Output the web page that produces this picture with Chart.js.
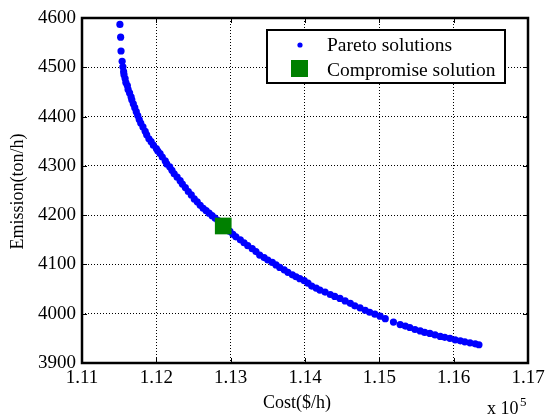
<!DOCTYPE html>
<html>
<head>
<meta charset="utf-8">
<script src="https://cdn.jsdelivr.net/npm/chart.js@4.4.0/dist/chart.umd.min.js"></script>
<style>
  html, body { margin: 0; padding: 0; background: #fff; }
  #wrap { width: 545px; height: 419px; }
</style>
</head>
<body>
<div id="wrap"><canvas id="paretoChart" width="545" height="419"></canvas></div>
<script>
// Pareto front (cost in units of 1e5 $/h, emission in ton/h)
const costs = [
  1.1151, 1.1152, 1.11525, 1.1154, 1.1155, 1.1156, 1.11565, 1.1158, 1.1159, 1.1161,
  1.1162, 1.1164, 1.1166, 1.1167, 1.1169, 1.1171, 1.1173, 1.1175, 1.1177, 1.1179,
  1.1182, 1.1185, 1.1187, 1.1190, 1.1193, 1.1196, 1.1200, 1.1202, 1.1205, 1.1208,
  1.1212, 1.1214, 1.1218, 1.1221, 1.1224, 1.1228, 1.1232, 1.1235, 1.1239, 1.1243,
  1.1247, 1.1251, 1.1255, 1.1259, 1.1263, 1.1267, 1.1271, 1.1275, 1.1279, 1.1283,
  1.1287, 1.1291, 1.1295, 1.1299, 1.1303, 1.1307, 1.1313, 1.1318, 1.1323, 1.1329,
  1.1334, 1.1339, 1.1345, 1.1350, 1.1356, 1.1361, 1.1366, 1.1372, 1.1377, 1.1383,
  1.1388, 1.1393, 1.1399, 1.1404, 1.1409, 1.1415, 1.1420, 1.1427, 1.1434, 1.1440,
  1.1447, 1.1454, 1.1461, 1.1467, 1.1474, 1.1481, 1.1487, 1.1494, 1.1501, 1.1508,
  1.1519, 1.1528, 1.1535, 1.1541, 1.1548, 1.1555, 1.1561, 1.1568, 1.1575, 1.1582,
  1.1588, 1.1595, 1.1602, 1.1609, 1.1615, 1.1622, 1.1629, 1.1634
];
const emissions = [
  4587, 4561, 4533, 4512, 4501, 4491, 4485, 4477, 4469, 4463,
  4455, 4448, 4440, 4434, 4426, 4418, 4410, 4402, 4394, 4387,
  4379, 4370, 4363, 4355, 4349, 4342, 4335, 4330, 4325, 4318,
  4310, 4304, 4298, 4291, 4284, 4277, 4270, 4263, 4256, 4248,
  4241, 4233, 4227, 4220, 4214, 4209, 4204, 4199, 4194, 4189,
  4182, 4178, 4173, 4167, 4161, 4156, 4150, 4144, 4138, 4132,
  4126, 4119, 4114, 4109, 4104, 4099, 4094, 4089, 4084, 4079,
  4075, 4071, 4067, 4062, 4056, 4052, 4048, 4044, 4039, 4035,
  4031, 4026, 4021, 4016, 4012, 4007, 4003, 3999, 3995, 3990,
  3983, 3978, 3975, 3972, 3968, 3965, 3962, 3960, 3957, 3954,
  3952, 3950, 3947, 3945, 3943, 3941, 3939, 3937
];
const compromiseCost = [1.1290];
const compromiseEmission = [4178];

const xTicks = [1.11, 1.12, 1.13, 1.14, 1.15, 1.16, 1.17];
const yTicks = [3900, 4000, 4100, 4200, 4300, 4400, 4500, 4600];

const seriesNames = ['Pareto solutions', 'Compromise solution'];
const xTitle = 'Cost($/h)';
const yTitle = 'Emission(ton/h)';

const FONT = '"Liberation Serif", "Times New Roman", serif';
const BLUE = '#0000ff';
const GREEN = '#008000';

const pareto = costs.map((c, i) => ({ x: c, y: emissions[i] }));
const compromise = compromiseCost.map((c, i) => ({ x: c, y: compromiseEmission[i] }));

// frame, inward ticks, titles, exponent and legend (MATLAB look)
const matlabDecor = {
  id: 'matlabDecor',
  afterDraw(chart) {
    const { ctx, chartArea: ca, scales } = chart;
    ctx.save();

    // inward tick marks on all four sides
    ctx.strokeStyle = '#000';
    ctx.lineWidth = 1;
    const tl = 5;
    ctx.beginPath();
    xTicks.forEach(v => {
      const px = Math.round(scales.x.getPixelForValue(v)) + 0.5;
      ctx.moveTo(px, ca.bottom); ctx.lineTo(px, ca.bottom - tl);
      ctx.moveTo(px, ca.top); ctx.lineTo(px, ca.top + tl);
    });
    yTicks.forEach(v => {
      const py = Math.round(scales.y.getPixelForValue(v)) + 0.5;
      ctx.moveTo(ca.left, py); ctx.lineTo(ca.left + tl, py);
      ctx.moveTo(ca.right, py); ctx.lineTo(ca.right - tl, py);
    });
    ctx.stroke();

    // box
    ctx.lineWidth = 2.5;
    ctx.strokeRect(ca.left, ca.top, ca.right - ca.left, ca.bottom - ca.top);

    // axis titles
    ctx.fillStyle = '#000';
    ctx.font = '18px ' + FONT;
    ctx.textAlign = 'center';
    ctx.textBaseline = 'middle';
    ctx.fillText(xTitle, (ca.left + ca.right) / 2 - 8, ca.bottom + 40);
    ctx.save();
    ctx.translate(18, (ca.top + ca.bottom) / 2 + 1);
    ctx.rotate(-Math.PI / 2);
    ctx.fillText(yTitle, 0, 0);
    ctx.restore();

    // x 10^5 exponent
    ctx.textAlign = 'left';
    ctx.textBaseline = 'alphabetic';
    ctx.font = '18px ' + FONT;
    ctx.fillText('x 10', ca.right - 41, ca.bottom + 51);
    ctx.font = '13px ' + FONT;
    ctx.fillText('5', ca.right - 8, ca.bottom + 43);

    // legend
    const lx = ca.right - 261, ly = ca.top + 12, lw = 238, lh = 53;
    ctx.fillStyle = '#fff';
    ctx.fillRect(lx, ly, lw, lh);
    ctx.strokeStyle = '#000';
    ctx.lineWidth = 2;
    ctx.strokeRect(lx, ly, lw, lh);

    ctx.fillStyle = BLUE;
    ctx.beginPath();
    ctx.arc(lx + 33, ly + 15, 2.6, 0, Math.PI * 2);
    ctx.fill();
    ctx.fillStyle = GREEN;
    ctx.fillRect(lx + 24, ly + 30, 17, 17);

    ctx.fillStyle = '#000';
    ctx.font = '19.5px ' + FONT;
    ctx.textBaseline = 'middle';
    ctx.fillText(seriesNames[0], lx + 60, ly + 16);
    ctx.fillText(seriesNames[1], lx + 60, ly + 41);

    ctx.restore();
  }
};

new Chart(document.getElementById('paretoChart'), {
  type: 'scatter',
  data: {
    datasets: [
      {
        label: seriesNames[0],
        data: pareto,
        backgroundColor: BLUE,
        borderColor: BLUE,
        pointRadius: 3.6,
        pointBorderWidth: 0,
        order: 1
      },
      {
        label: seriesNames[1],
        data: compromise,
        pointStyle: 'rect',
        backgroundColor: GREEN,
        borderColor: GREEN,
        pointRadius: 11.8,
        pointBorderWidth: 0,
        order: 0
      }
    ]
  },
  options: {
    responsive: false,
    animation: false,
    events: [],
    layout: { padding: { left: 0, top: 18, right: 17, bottom: 0 } },
    plugins: {
      legend: { display: false },
      tooltip: { enabled: false }
    },
    scales: {
      x: {
        type: 'linear',
        min: xTicks[0],
        max: xTicks[xTicks.length - 1],
        afterBuildTicks: s => { s.ticks = xTicks.map(v => ({ value: v })); },
        afterFit: s => { s.height = 56; s.paddingLeft = 0; s.paddingRight = 0; },
        grid: { color: '#000', lineWidth: 1, drawTicks: false },
        border: { display: false, dash: [1, 2] },
        ticks: {
          color: '#000',
          padding: 4,
          maxRotation: 0,
          font: { family: FONT, size: 19 },
          callback: v => v.toFixed(2)
        }
      },
      y: {
        type: 'linear',
        min: yTicks[0],
        max: yTicks[yTicks.length - 1],
        afterBuildTicks: s => { s.ticks = yTicks.map(v => ({ value: v })); },
        afterFit: s => { s.width = 82; s.paddingTop = 0; s.paddingBottom = 0; },
        grid: { color: '#000', lineWidth: 1, drawTicks: false },
        border: { display: false, dash: [1, 2] },
        ticks: {
          color: '#000',
          padding: 6,
          font: { family: FONT, size: 19 },
          callback: v => String(v)
        }
      }
    }
  },
  plugins: [matlabDecor]
});
</script>
</body>
</html>
